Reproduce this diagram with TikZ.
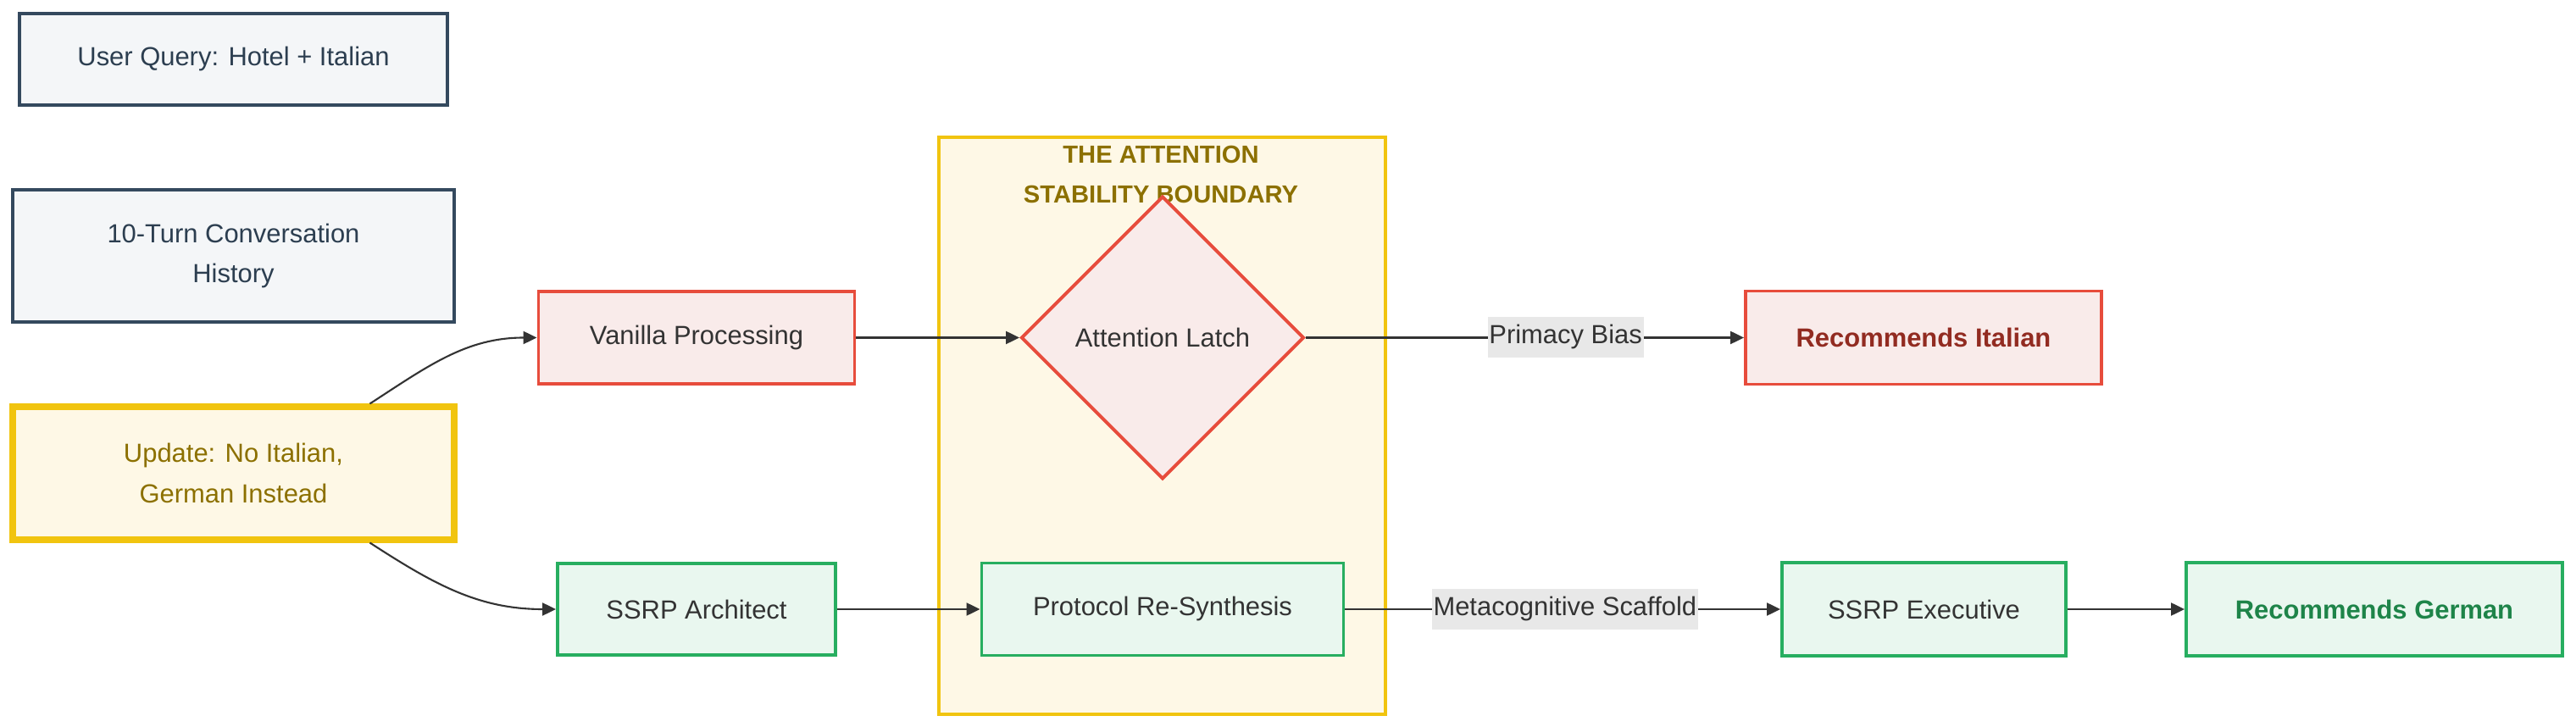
\documentclass[tikz,border=0pt]{standalone}
\usepackage{fontspec}
\setmainfont{Liberation Sans}
\usetikzlibrary{shapes.geometric,arrows.meta}

\definecolor{slate}{HTML}{34495E}
\definecolor{slatetext}{HTML}{2C3E50}
\definecolor{grayfill}{HTML}{F4F6F8}
\definecolor{amber}{HTML}{F1C40F}
\definecolor{amberfill}{HTML}{FEF8E6}
\definecolor{olive}{HTML}{8C7000}
\definecolor{redline}{HTML}{E74C3C}
\definecolor{redfill}{HTML}{F9EBEA}
\definecolor{redtext}{HTML}{922B21}
\definecolor{greenline}{HTML}{27AE60}
\definecolor{greenfill}{HTML}{E9F7EF}
\definecolor{greentext}{HTML}{1E8449}
\definecolor{ink}{HTML}{333333}
\definecolor{lblfill}{HTML}{E8E8E8}

\begin{document}
\begin{tikzpicture}[
  box/.style={draw, rectangle, line width=1.1pt, inner sep=0pt, align=center,
    font=\fontsize{8.8}{13.6}\selectfont},
  graybox/.style={box, draw=slate, fill=grayfill, text=slatetext},
  updbox/.style={box, draw=amber, fill=amberfill, text=olive, line width=2pt},
  redbox/.style={box, draw=redline, fill=redfill, text=ink},
  greenbox/.style={box, draw=greenline, fill=greenfill, text=ink},
  latchbox/.style={redbox, diamond, aspect=1, minimum width=3.34cm, minimum height=3.34cm},
  bound/.style={draw=amber, fill=amberfill, line width=1.1pt, inner sep=0pt},
  bndtitle/.style={text=olive, align=center, font=\fontsize{8.3}{13.6}\selectfont\bfseries},
  arr/.style={draw=ink, line width=0.6pt, -{Triangle[length=1.6mm,width=1.5mm]}},
  lbl/.style={fill=lblfill, text=ink, inner xsep=0.5pt, inner ysep=0.9mm,
    text height=2.2mm, text depth=0.8mm, font=\fontsize{8.8}{10}\selectfont}
]
\useasboundingbox (0,0) rectangle (30.4,-8.58);

% === Inputs ===
\node[graybox, minimum width=5.05cm, minimum height=1.08cm] (query) at (2.755,-0.70) {User Query: Hotel + Italian};
\node[graybox, minimum width=5.21cm, minimum height=1.56cm] (hist) at (2.755,-3.02) {10-Turn Conversation\\History};
\node[updbox, minimum width=5.21cm, minimum height=1.57cm] (upd) at (2.755,-5.585) {Update: No Italian,\\German Instead};

% === Stability boundary ===
\node[bound, minimum width=5.27cm, minimum height=6.81cm] (boundary) at (13.715,-5.025) {};
\node[bndtitle] (title) at (13.70,-2.06) {THE ATTENTION\\STABILITY BOUNDARY};

% === Vanilla path ===
\node[redbox, minimum width=3.73cm, minimum height=1.09cm] (van) at (8.22,-3.985) {Vanilla Processing};
\node[latchbox] (latch) at (13.72,-3.985) {Attention Latch};
\node[redbox, minimum width=4.20cm, minimum height=1.10cm, text=redtext, font=\fontsize{8.8}{13.6}\selectfont\bfseries] (ita) at (22.70,-3.985) {Recommends Italian};

% === SSRP path ===
\node[greenbox, minimum width=3.28cm, minimum height=1.08cm] (arch) at (8.22,-7.19) {SSRP Architect};
\node[greenbox, minimum width=4.27cm, minimum height=1.09cm] (proto) at (13.72,-7.19) {Protocol Re-Synthesis};
\node[greenbox, minimum width=3.35cm, minimum height=1.10cm] (exec) at (22.705,-7.19) {SSRP Executive};
\node[greenbox, minimum width=4.44cm, minimum height=1.10cm, text=greentext, font=\fontsize{8.8}{13.6}\selectfont\bfseries] (ger) at (28.02,-7.19) {Recommends German};

% edges
\draw[arr] (upd.27) to[out=33,in=180] (van.west);
\draw[arr] (upd.-27) to[out=-33,in=180] (arch.west);
\draw[arr] (van.east) -- (latch.west);
\draw[arr] (latch.east) -- node[lbl, pos=0.593] (primacy) {Primacy Bias} (ita.west);
\draw[arr] (arch.east) -- (proto.west);
\draw[arr] (proto.east) -- node[lbl, pos=0.505] (scaffold) {Metacognitive Scaffold} (exec.west);
\draw[arr] (exec.east) -- (ger.west);

\end{tikzpicture}
\end{document}
